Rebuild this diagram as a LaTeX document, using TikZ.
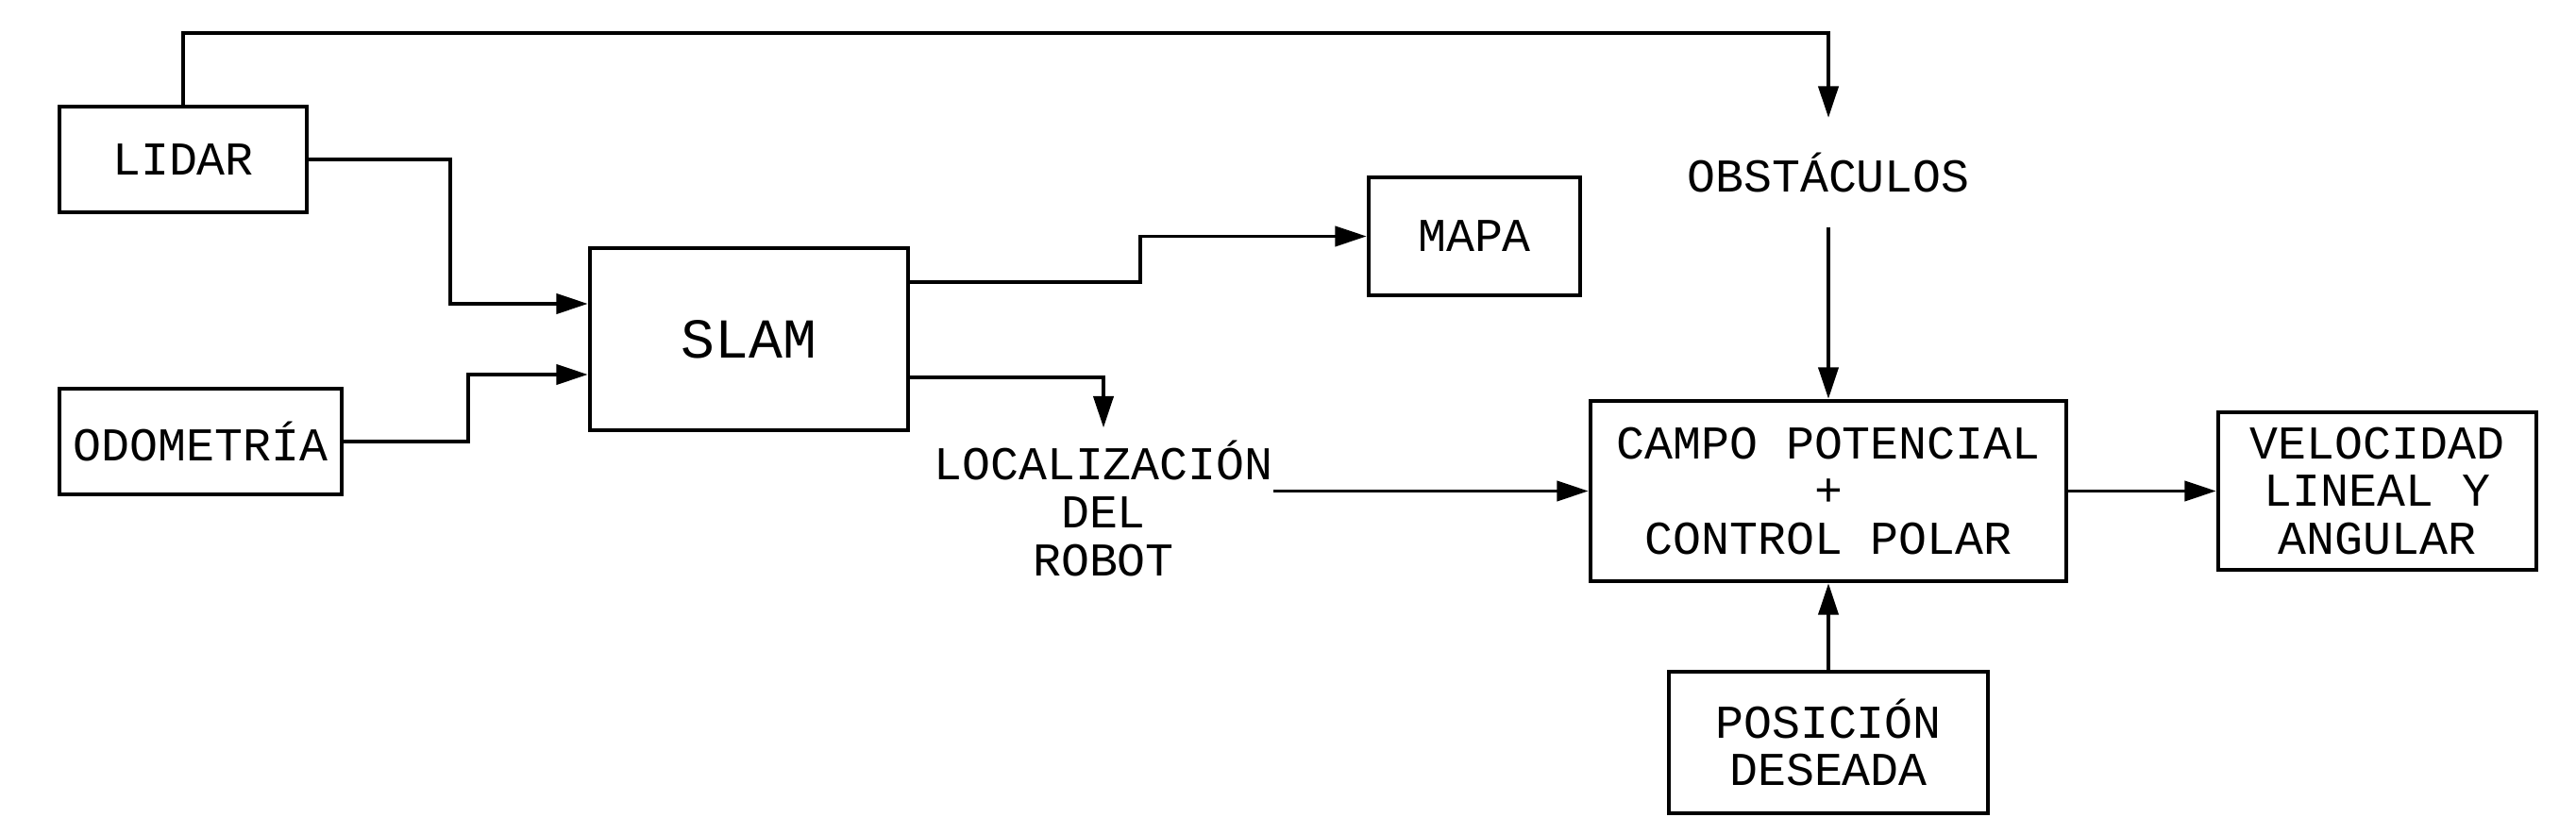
\documentclass[tikz,border=0pt]{standalone}
\usepackage{fontspec}
\setmainfont{Liberation Mono}
\usetikzlibrary{arrows.meta}
\begin{document}
\begin{tikzpicture}[
        font=\fontsize{14.2}{14.4}\selectfont,
        block/.style={draw,line width=1.3pt,inner sep=0pt,align=center},
        label/.style={inner sep=0pt,align=center},
        arr/.style={line width=1.1pt,-{Triangle[length=9.5pt,width=6pt]}}
    ]
        \useasboundingbox (0,0) rectangle (27.29,8.84);
        %% Sensors
        \node[block,minimum width=2.62cm,minimum height=1.12cm] (lidar) at (1.94,7.15) {LIDAR};
        \node[block,minimum width=2.99cm,minimum height=1.12cm] (odom) at (2.125,4.16) {ODOMETRÍA};
        %% SLAM and outputs
        \node[block,minimum width=3.37cm,minimum height=1.93cm,font=\fontsize{17}{17}\selectfont] (slam) at (7.935,5.245) {SLAM};
        \node[block,minimum width=2.24cm,minimum height=1.25cm] (mapa) at (15.62,6.335) {MAPA};
        \node[label,minimum height=1.70cm] (loc) at (11.69,3.45) {LOCALIZACIÓN\\DEL\\ROBOT};
        %% Controller
        \node[label,minimum height=1.15cm] (obst) at (19.37,7.01) {OBSTÁCULOS};
        \node[block,minimum width=5.04cm,minimum height=1.91cm] (campo) at (19.37,3.635) {CAMPO POTENCIAL\\+\\CONTROL POLAR};
        \node[block,minimum width=3.37cm,minimum height=1.67cm] (vel) at (25.185,3.635) {VELOCIDAD\\LINEAL Y\\ANGULAR};
        \node[block,minimum width=3.38cm,minimum height=1.50cm] (pos) at (19.37,0.97) {POSICIÓN\\DESEADA};
        %% Connections
        \coordinate (top) at (1.94,8.49);
        \draw[arr] (lidar.north) -- (top) -| (obst.north);
        \draw[arr] (lidar.east) -- ++(1.50,0) |- ([yshift=0.375cm]slam.west);
        \draw[arr] (odom.east) -- ++(1.32,0) |- ([yshift=-0.375cm]slam.west);
        \draw[arr] ([yshift=0.605cm]slam.east) -- ++(2.44,0) |- (mapa.west);
        \draw[arr] ([yshift=-0.405cm]slam.east) -| (loc.north);
        \draw[arr] (loc.east |- campo.west) -- (campo.west);
        \draw[arr] (obst.south) -- (campo.north);
        \draw[arr] (pos.north) -- (campo.south);
        \draw[arr] (campo.east) -- (vel.west);
    \end{tikzpicture}
\end{document}
